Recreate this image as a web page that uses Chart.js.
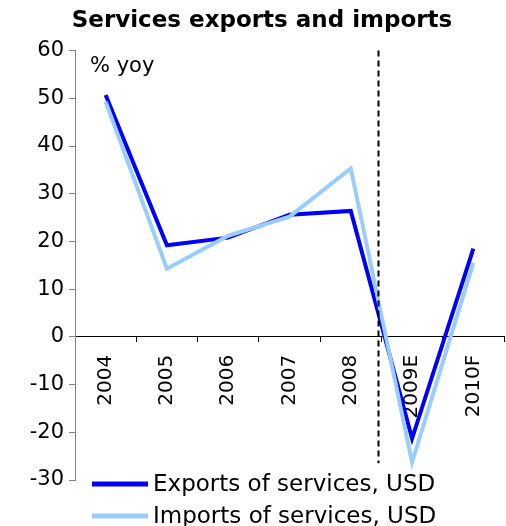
<!DOCTYPE html>
<html>
<head>
<meta charset="utf-8">
<script src="https://cdn.jsdelivr.net/npm/chart.js@4/dist/chart.umd.min.js"></script>
<style>
  html, body { margin: 0; padding: 0; background: #fff; }
  #wrap { width: 506px; height: 526px; }
</style>
</head>
<body>
<div id="wrap"><canvas id="servicesChart" width="506" height="526"></canvas></div>
<script>
const years = ['2004', '2005', '2006', '2007', '2008', '2009E', '2010F'];
const exportsYoy = [50.7, 19.2, 20.8, 25.6, 26.4, -21.3, 18.5];
const importsYoy = [49.3, 14.3, 21.2, 25.2, 35.3, -26.3, 15.5];
const yTicks = [-30, -20, -10, 0, 10, 20, 30, 40, 50, 60];
// forecast divider sits between 2008 and 2009E (category index units)
const forecastDivider = 4.44;
const dividerBottom = -26.5;

const FONT = '"DejaVu Sans", Verdana, sans-serif';

// dashed divider, unit label and legend
const extras = {
  id: 'extras',
  afterDatasetsDraw(chart) {
    const { ctx, scales: { x, y } } = chart;
    const px = Math.round(x.getPixelForValue(forecastDivider)) + 0.5;
    ctx.save();
    ctx.strokeStyle = '#000';
    ctx.lineWidth = 2;
    ctx.setLineDash([6, 4]);
    ctx.beginPath();
    ctx.moveTo(px, y.getPixelForValue(60));
    ctx.lineTo(px, y.getPixelForValue(dividerBottom));
    ctx.stroke();
    ctx.restore();
  },
  afterDraw(chart) {
    const { ctx, chartArea } = chart;
    ctx.save();
    ctx.fillStyle = '#000';
    ctx.font = '21px ' + FONT;
    ctx.textBaseline = 'middle';
    ctx.fillText('% yoy', chartArea.left + 15, chartArea.top + 16);

    // legend rows
    chart.data.datasets.forEach((ds, i) => {
      const rowY = 484 + i * 32;
      ctx.strokeStyle = ds.borderColor;
      ctx.lineWidth = 5;
      ctx.beginPath();
      ctx.moveTo(92, rowY);
      ctx.lineTo(148, rowY);
      ctx.stroke();
      ctx.fillStyle = '#000';
      ctx.font = '23px ' + FONT;
      ctx.fillText(ds.label, 153, rowY + 1);
    });
    ctx.restore();
  }
};

new Chart(document.getElementById('servicesChart'), {
  type: 'line',
  data: {
    labels: years,
    datasets: [
      {
        label: 'Exports of services, USD',
        data: exportsYoy,
        borderColor: '#0000ff',
        borderWidth: 4,
        pointRadius: 0,
        tension: 0,
        order: 2
      },
      {
        label: 'Imports of services, USD',
        data: importsYoy,
        borderColor: '#99ccff',
        borderWidth: 4,
        pointRadius: 0,
        tension: 0,
        order: 1
      }
    ]
  },
  options: {
    responsive: false,
    animation: false,
    layout: { padding: { left: 20, right: 2, top: 0, bottom: 46 } },
    plugins: {
      legend: { display: false },
      tooltip: { enabled: false },
      title: {
        display: true,
        text: 'Services exports and imports',
        color: '#000',
        font: { family: FONT, size: 23, weight: 'bold' },
        padding: { top: 7, bottom: 16 }
      }
    },
    scales: {
      x: {
        type: 'category',
        position: { y: 0 },
        offset: true,
        afterFit: scale => { scale.paddingLeft = 0; scale.paddingRight = 0; },
        grid: {
          offset: true,
          drawOnChartArea: false,
          drawTicks: true,
          tickLength: 5,
          tickColor: '#000'
        },
        border: { color: '#000', width: 1 },
        ticks: {
          color: '#000',
          font: { family: FONT, size: 20 },
          minRotation: 90,
          maxRotation: 90,
          padding: 13
        }
      },
      y: {
        min: -30,
        max: 60,
        afterBuildTicks: scale => { scale.ticks = yTicks.map(v => ({ value: v })); },
        afterFit: scale => { scale.width = 55; },
        grid: {
          drawOnChartArea: false,
          drawTicks: true,
          tickLength: 6,
          tickColor: '#808080'
        },
        border: { color: '#808080', width: 1 },
        ticks: {
          color: '#000',
          font: { family: FONT, size: 21 },
          padding: 5
        }
      }
    }
  },
  plugins: [extras]
});
</script>
</body>
</html>
